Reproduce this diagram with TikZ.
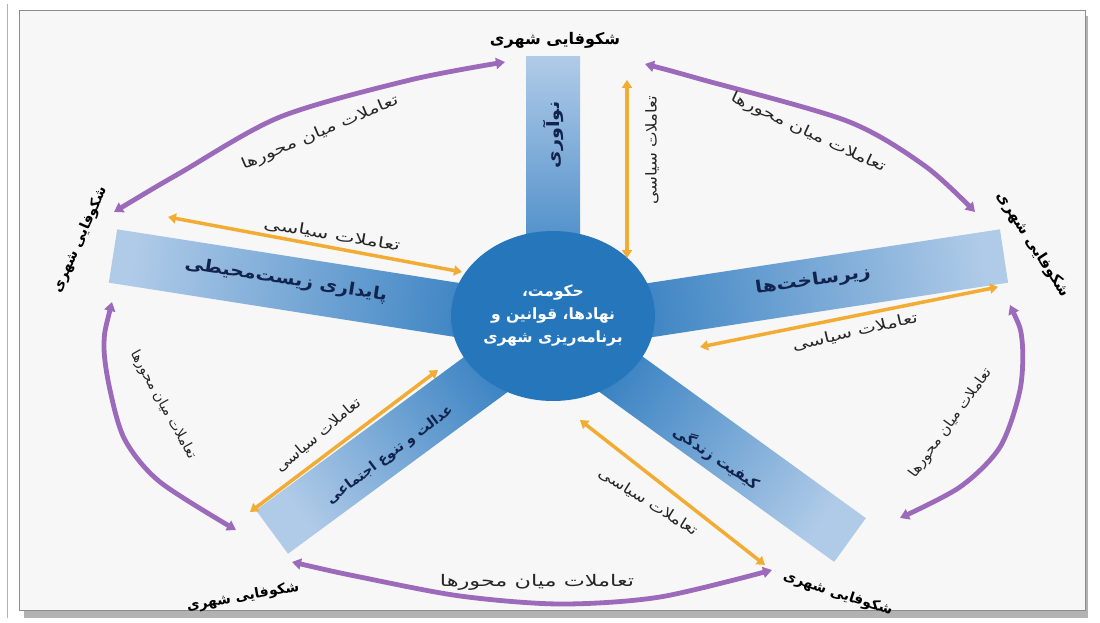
\documentclass[tikz,border=0pt]{standalone}
\usepackage{fontspec}
\TeXXeTstate=1
\newfontfamily\fa[Script=Arabic]{DejaVu Sans}
\usetikzlibrary{arrows.meta,calc,shapes.geometric}
\newcommand\fatxt[1]{\beginR #1\endR}
\definecolor{bluedark}{RGB}{38,118,188}
\definecolor{bluelight}{RGB}{176,203,232}
\definecolor{purp}{RGB}{156,106,186}
\definecolor{orng}{RGB}{242,172,52}
\definecolor{navy}{RGB}{18,36,78}
\definecolor{panel}{RGB}{247,247,247}
\begin{document}
\begin{tikzpicture}[x=1pt,y=-1pt,
  armshape/.style={top color=bluelight, bottom color=bluedark},
  purparc/.style={draw=purp, line width=4.8pt, {Triangle[length=9pt,width=11pt]}-{Triangle[length=9pt,width=11pt]}},
  orarrow/.style={draw=orng, line width=3.5pt, {Triangle[length=8pt,width=10pt]}-{Triangle[length=8pt,width=10pt]}},
  corner/.style={font=\fa\bfseries\fontsize{#1}{#1}\selectfont, text=black, inner sep=1pt},
  armlbl/.style={font=\fa\bfseries\fontsize{#1}{#1}\selectfont, text=navy, inner sep=1pt},
  arclbl/.style={font=\fa\fontsize{#1}{#1}\selectfont, text=black!85, inner sep=1pt}]
\useasboundingbox (0,0) rectangle (1100,623);
\fill[white] (0,0) rectangle (1100,623);
% frame
\fill[black!30] (24,16) rectangle (1088,618);
\draw[black!30, line width=1pt] (7,4) -- (7,618);
\filldraw[fill=panel, draw=black!45, line width=1pt] (19,11) rectangle (1085,610);

% arms
\coordinate (C) at (553,325);
\coordinate (eT) at (553,57);
\coordinate (eR) at (1004,256);
\coordinate (eL) at (113,256);
\coordinate (eBL) at (272,532);
\coordinate (eBR) at (850,540);
\foreach \e/\ang in {eT/0, eR/-82, eL/82, eBL/127, eBR/-126}{
  \shade[armshape, shading angle=\ang]
    ($(C)!27pt!90:(\e)$) -- ($(\e)!27pt!-90:(C)$) -- ($(\e)!27pt!90:(C)$) -- ($(C)!27pt!-90:(\e)$) -- cycle;
}

% hub
\node[ellipse, fill=bluedark, minimum width=204pt, minimum height=170pt, inner sep=0pt,
      text=white, align=center, font=\fa\bfseries\fontsize{15.5}{23}\selectfont] (hub) at (553,316)
  {\fatxt{حکومت،}\\\fatxt{نهادها، قوانین و}\\\fatxt{برنامه‌ریزی شهری}};

% arm labels
\node[armlbl=17, rotate=90, xscale=1.13] (lT) at (553,135) {\fatxt{نوآوری}};
\node[armlbl=17, rotate=8, xscale=1.18] (lR) at (813,281) {\fatxt{زیرساخت‌ها}};
\node[armlbl=17, rotate=-9, xscale=1.13] (lL) at (286,280) {\fatxt{پایداری زیست‌محیطی}};
\node[armlbl=14, rotate=37] (lBL) at (390,455) {\fatxt{عدالت و تنوع اجتماعی}};
\node[armlbl=15, rotate=-34] (lBR) at (716,458) {\fatxt{کیفیت زندگی}};

% corner labels
\node[corner=16] (cT) at (555,40) {\fatxt{شکوفایی شهری}};
\node[corner=14, rotate=66] (cL) at (80,240) {\fatxt{شکوفایی شهری}};
\node[corner=15, rotate=-57] (cR) at (1033,245) {\fatxt{شکوفایی شهری}};
\node[corner=14, rotate=10] (cBL) at (243,597) {\fatxt{شکوفایی شهری}};
\node[corner=14, rotate=-18] (cBR) at (838,594) {\fatxt{شکوفایی شهری}};

% purple arcs
\coordinate (tl1) at (114,212); \coordinate (tl2) at (180,173); \coordinate (tl3) at (280,117);
\coordinate (tl4) at (410,80); \coordinate (tl5) at (505,62);
\coordinate (tr1) at (645,64); \coordinate (tr2) at (700,79); \coordinate (tr3) at (847,121);
\coordinate (tr4) at (925,166); \coordinate (tr5) at (975,212);
\coordinate (l1) at (112,302); \coordinate (l2) at (104,345); \coordinate (l3) at (110,390);
\coordinate (l4) at (125,440); \coordinate (l5) at (160,482); \coordinate (l6) at (236,530);
\coordinate (b1) at (292,562); \coordinate (b2) at (360,577); \coordinate (b3) at (460,596);
\coordinate (b4) at (560,604); \coordinate (b5) at (660,597); \coordinate (b6) at (772,570);
\coordinate (r1) at (1010,305); \coordinate (r2) at (1022,340); \coordinate (r3) at (1020,390);
\coordinate (r4) at (1000,447); \coordinate (r5) at (960,487); \coordinate (r6) at (900,518);
\draw[purparc] plot[smooth] coordinates {(tl1) (tl2) (tl3) (tl4) (tl5)};
\draw[purparc] plot[smooth] coordinates {(tr1) (tr2) (tr3) (tr4) (tr5)};
\draw[purparc] plot[smooth] coordinates {(l1) (l2) (l3) (l4) (l5) (l6)};
\draw[purparc] plot[smooth] coordinates {(b1) (b2) (b3) (b4) (b5) (b6)};
\draw[purparc] plot[smooth] coordinates {(r1) (r2) (r3) (r4) (r5) (r6)};

% arc labels
\node[arclbl=16, xscale=1.4] (aB) at (537,582) {\fatxt{تعاملات میان محورها}};
\node[arclbl=14, rotate=-61] (aL) at (163,405) {\fatxt{تعاملات میان محورها}};
\node[arclbl=14, rotate=54, xscale=1.08] (aR) at (951,423) {\fatxt{تعاملات میان محورها}};
\node[arclbl=15, rotate=23, xscale=1.3] (aTL) at (320,133) {\fatxt{تعاملات میان محورها}};
\node[arclbl=15, rotate=-25, xscale=1.3] (aTR) at (808,133) {\fatxt{تعاملات میان محورها}};

% orange arrows
\coordinate (oV1) at (627,80); \coordinate (oV2) at (627,258);
\coordinate (oUL1) at (168,217); \coordinate (oUL2) at (462,272);
\coordinate (oR1) at (700,347); \coordinate (oR2) at (998,287);
\coordinate (oBL1) at (250,512); \coordinate (oBL2) at (438,370);
\coordinate (oBR1) at (580,420); \coordinate (oBR2) at (765,565);
\draw[orarrow] (oV1) -- (oV2);
\draw[orarrow] (oUL1) -- (oUL2);
\draw[orarrow] (oR1) -- (oR2);
\draw[orarrow] (oBL1) -- (oBL2);
\draw[orarrow] (oBR1) -- (oBR2);

% orange labels
\node[arclbl=15, rotate=90, xscale=1.1] (pV) at (652,150) {\fatxt{تعاملات سیاسی}};
\node[arclbl=15, rotate=-9.5, xscale=1.4] (pUL) at (332,235) {\fatxt{تعاملات سیاسی}};
\node[arclbl=15, rotate=13, xscale=1.3] (pR) at (855,332) {\fatxt{تعاملات سیاسی}};
\node[arclbl=15, rotate=40, xscale=1.08] (pBL) at (318,435) {\fatxt{تعاملات سیاسی}};
\node[arclbl=15, rotate=-32, xscale=1.15] (pBR) at (648,502) {\fatxt{تعاملات سیاسی}};
\end{tikzpicture}
\end{document}
